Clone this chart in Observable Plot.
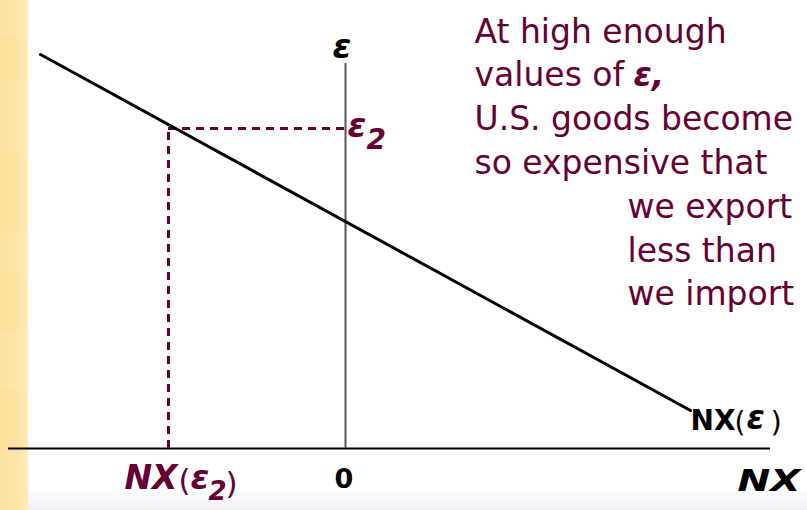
<!DOCTYPE html>
<html>
<head>
<meta charset="utf-8">
<script src="https://cdn.jsdelivr.net/npm/d3@7"></script>
<script src="https://cdn.jsdelivr.net/npm/@observablehq/plot@0.6"></script>
<style>
  html, body { margin: 0; padding: 0; background: #fff; }
  #stage { position: relative; width: 807px; height: 510px; overflow: hidden; background: #fff; }
  #stripe { position: absolute; left: 0; top: 0; width: 28px; height: 510px;
            background: linear-gradient(to right, #fde3a0 0px, #fde6a8 20px, #feebb8 28px); }
  .block { position: absolute; left: 0; width: 17px; background: #fcdd92; opacity: 0.45; }
  #footer { position: absolute; left: 28px; top: 492px; width: 779px; height: 18px;
            background: linear-gradient(to bottom, #fbfbfd, #eff0f7); }
  #chart { position: absolute; left: 0; top: 0; }
</style>
</head>
<body>
<div id="stage">
  <div id="stripe"></div>
  <div class="block" style="top:35px;height:45px"></div>
  <div class="block" style="top:153px;height:80px"></div>
  <div class="block" style="top:273px;height:60px"></div>
  <div class="block" style="top:390px;height:57px"></div>
  <div id="footer"></div>
  <div id="chart"></div>
</div>
<script>
// Net exports schedule: NX falls as the real exchange rate ε rises
const nxValues  = [-6.1, 6.9];
const epsValues = [7.88, 0.76];

// Highlighted exchange rate ε2 and the net exports it implies
const eps2 = 6.4;
const nx2  = -3.54;

// Axis extents
const xAxisExtent = [-6.74, 8.5];
const yAxisExtent = [0, 7.7];

// Annotation lines
const noteLeft  = ["At high enough", "values of", "U.S. goods become", "so expensive that"];
const noteRight = ["we export", "less than", "we import"];

const maroon = "#660033";
const sans = "'DejaVu Sans', Verdana, sans-serif";

const curve = nxValues.map((nx, i) => ({nx, eps: epsValues[i]}));

// pixel helpers for placing the text labels
const W = 807, H = 510;
const xDom = [-6.9, 9.24], yDom = [-1.24, 8.96];
const px = d3.scaleLinear().domain([0, W]).range(xDom);
const py = d3.scaleLinear().domain([0, H]).range([yDom[1], yDom[0]]);

const lineH = 43.8;

// one text piece placed at a pixel baseline
function piece(str, x, y, opts) {
  return Plot.text([str], {x: px(x), y: py(y), text: d => d, textAnchor: "start",
    lineAnchor: "bottom", fontFamily: sans, ...opts});
}
const bi = {fontWeight: "bold", fontStyle: "italic"};

const chart = Plot.plot({
  width: W, height: H,
  marginTop: 0, marginRight: 0, marginBottom: 0, marginLeft: 0,
  x: {domain: xDom, axis: null},
  y: {domain: yDom, axis: null},
  style: {background: "transparent", overflow: "visible"},
  marks: [
    // horizontal NX axis
    Plot.ruleY([0], {x1: xAxisExtent[0], x2: xAxisExtent[1], stroke: "#000", strokeWidth: 2}),
    // vertical ε axis
    Plot.ruleX([0], {y1: yAxisExtent[0], y2: yAxisExtent[1], stroke: "#555", strokeWidth: 2}),
    // dashed guides to ε2
    Plot.ruleY([eps2], {x1: nx2, x2: 0, stroke: maroon, strokeWidth: 3, strokeDasharray: "8,6"}),
    Plot.ruleX([nx2], {y1: 0, y2: eps2, stroke: maroon, strokeWidth: 3, strokeDasharray: "8,6"}),
    // NX(ε) schedule
    Plot.line(curve, {x: "nx", y: "eps", stroke: "#000", strokeWidth: 3}),

    // axis labels
    piece("ε", 332, 57, {...bi, fontSize: 34, fill: "#000"}),
    piece("0", 334, 487, {fontWeight: "bold", fontSize: 27, fill: "#000"}),
    piece("NX", 737, 490, {...bi, fontSize: 31, fill: "#000", className: "nx-wide"}),

    // ε2 label on the vertical axis
    piece("ε", 347, 136, {...bi, fontSize: 34, fill: maroon}),
    piece("2", 366, 148, {...bi, fontSize: 28, fill: maroon}),

    // NX(ε2) label under the dashed guide
    piece("NX", 124, 488, {...bi, fontSize: 33, fill: maroon}),
    piece("(", 178, 490, {fontSize: 31, fill: maroon}),
    piece("ε", 190, 488, {...bi, fontSize: 34, fill: maroon}),
    piece("2", 208, 499, {...bi, fontSize: 26, fill: maroon}),
    piece(")", 225, 493, {fontSize: 31, fill: maroon}),

    // curve label
    piece("NX", 690, 429, {fontWeight: "bold", fontSize: 28, fill: "#000"}),
    piece("(", 734, 431, {fontSize: 28, fill: "#000"}),
    piece("ε", 746, 428, {...bi, fontSize: 33, fill: "#000"}),
    piece(")", 770, 431, {fontSize: 29, fill: "#000"}),

    // annotation
    Plot.text(noteLeft, {x: px(474), y: (d, i) => py(42 + i * lineH), text: d => d, fontSize: 33,
      fontFamily: sans, fill: maroon, textAnchor: "start", lineAnchor: "bottom"}),
    piece("ε,", 633, 42 + lineH, {...bi, fontSize: 33, fill: maroon}),
    Plot.text(noteRight, {x: px(627), y: (d, i) => py(42 + (i + 4) * lineH), text: d => d, fontSize: 33,
      fontFamily: sans, fill: maroon, textAnchor: "start", lineAnchor: "bottom"})
  ]
});

// the NX axis title is drawn stretched to its full width
d3.select(chart).selectAll(".nx-wide text")
  .attr("textLength", 63).attr("lengthAdjust", "spacingAndGlyphs");

document.getElementById("chart").appendChild(chart);
</script>
</body>
</html>
